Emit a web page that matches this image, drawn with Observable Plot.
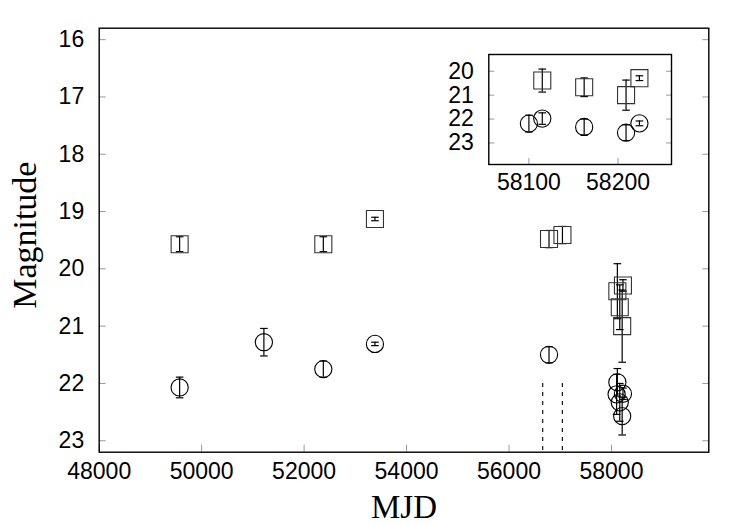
<!DOCTYPE html>
<html>
<head>
<meta charset="utf-8">
<script src="https://cdn.jsdelivr.net/npm/d3@7"></script>
<script src="https://cdn.jsdelivr.net/npm/@observablehq/plot@0.6"></script>
<style>
  html, body { margin: 0; padding: 0; background: white; }
  #wrap { position: relative; width: 750px; height: 525px; }
  #inset { position: absolute; left: 438px; top: 44px; }
</style>
</head>
<body>
<div id="wrap"><div id="main"></div><div id="inset"></div></div>
<script>
// ---- data ----
const squareMJD = [49570, 52375, 53383, 56781, 57043, 58115, 58162, 58209, 58224];
const squareMag = [19.57, 19.57, 19.13, 19.48, 19.41, 20.39, 20.67, 21.00, 20.29];
const squareErr = [0.13, 0.13, 0.03, 0.15, 0.15, 0.48, 0.39, 0.63, 0.10];

const circleMJD = [49570, 51215, 52375, 53383, 56781, 58100, 58115, 58162, 58209, 58224];
const circleMag = [22.07, 21.28, 21.75, 21.31, 21.50, 22.19, 21.98, 22.33, 22.57, 22.18];
const circleErr = [0.18, 0.24, 0.14, 0.03, 0.14, 0.35, 0.24, 0.33, 0.33, 0.10];

const dashedMJD = [56658, 57041];
const dashedFrom = 22.0;

const xTicksMain = [48000, 50000, 52000, 54000, 56000, 58000];
const yTicksMain = [16, 17, 18, 19, 20, 21, 22, 23];
const xTicksInset = [58100, 58200];
const yTicksInset = [20, 21, 22, 23];

// ---- build tables ----
const squares = squareMJD.map((x, i) => ({x, mag: squareMag[i], err: squareErr[i]}));
const circles = circleMJD.map((x, i) => ({x, mag: circleMag[i], err: circleErr[i]}));
const dashed = dashedMJD.map(x => ({x}));

const capSymbol = {
  draw(context, size) {
    const w = Math.sqrt(size / Math.PI);
    context.moveTo(-w, 0);
    context.lineTo(w, 0);
  }
};

function dataMarks() {
  const m = [];
  for (const [data, color, sym, r] of [[squares, "#333", "square", 9.6], [circles, "black", "circle", 8.6]]) {
    m.push(Plot.ruleX(data, {x: "x", y1: d => d.mag - d.err, y2: d => d.mag + d.err, stroke: "black", strokeWidth: 1.2}));
    m.push(Plot.dot(data, {x: "x", y: d => d.mag - d.err, symbol: capSymbol, r: 3.8, stroke: "black", strokeWidth: 1.2}));
    m.push(Plot.dot(data, {x: "x", y: d => d.mag + d.err, symbol: capSymbol, r: 3.8, stroke: "black", strokeWidth: 1.2}));
    m.push(Plot.dot(data, {x: "x", y: "mag", symbol: sym, r, stroke: color, strokeWidth: 1.1, fill: "none"}));
  }
  return m;
}

const font = "'Liberation Sans', Arial, Helvetica, sans-serif";
const serif = "'Liberation Serif', 'Times New Roman', serif";

// ---- main plot ----
const main = Plot.plot({
  width: 750,
  height: 525,
  marginLeft: 98.7,
  marginRight: 41.7,
  marginTop: 27.7,
  marginBottom: 73.3,
  x: {domain: [48000, 59900]},
  y: {domain: [15.8, 23.2], reverse: true},
  style: {fontFamily: font, fontSize: "23px", background: "white", color: "black", overflow: "visible"},
  marks: [
    Plot.axisX(xTicksMain, {tickSize: 0, tickPadding: 10, tickFormat: "d", label: null}),
    Plot.axisX(xTicksMain, {tickSize: -7, tickFormat: () => "", stroke: "#999", label: null}),
    Plot.axisY(yTicksMain, {tickSize: 0, tickPadding: 15, tickFormat: "d", label: null}),
    Plot.axisY(yTicksMain, {tickSize: -7, tickFormat: () => "", stroke: "#999", label: null}),
    Plot.axisY(yTicksMain, {anchor: "right", tickSize: -7, tickFormat: () => "", stroke: "#999", label: null}),
    Plot.ruleX(dashed, {x: "x", y1: dashedFrom, y2: 23.2, stroke: "black", strokeWidth: 1.1, strokeDasharray: "4,5"}),
    ...dataMarks(),
    Plot.frame({stroke: "black", strokeWidth: 1.4}),
    Plot.text(["MJD"], {frameAnchor: "bottom", dy: 55, textAnchor: "middle", lineAnchor: "middle", fontFamily: serif, fontSize: 33}),
    Plot.text(["Magnitude"], {frameAnchor: "left", dx: -74, dy: -5, rotate: -90, textAnchor: "middle", lineAnchor: "middle", fontFamily: serif, fontSize: 34})
  ]
});
document.getElementById("main").appendChild(main);

// ---- inset ----
const inset = Plot.plot({
  width: 245,
  height: 160,
  marginLeft: 50.3,
  marginRight: 12,
  marginTop: 10,
  marginBottom: 40,
  x: {domain: [58055, 58260]},
  y: {domain: [19.3, 23.9], reverse: true},
  style: {fontFamily: font, fontSize: "23px", background: "transparent", color: "black", overflow: "visible"},
  marks: [
    Plot.frame({fill: "white"}),
    Plot.axisX(xTicksInset, {tickSize: 0, tickPadding: 9, tickFormat: "d", label: null}),
    Plot.axisX(xTicksInset, {tickSize: -6, tickFormat: () => "", stroke: "#999", label: null}),
    Plot.axisY(yTicksInset, {tickSize: 0, tickPadding: 15, tickFormat: "d", label: null}),
    Plot.axisY(yTicksInset, {tickSize: -6, tickFormat: () => "", stroke: "#999", label: null}),
    Plot.axisY(yTicksInset, {anchor: "right", tickSize: -6, tickFormat: () => "", stroke: "#999", label: null}),
    ...dataMarks(),
    Plot.frame({stroke: "black", strokeWidth: 1.4})
  ]
});
document.getElementById("inset").appendChild(inset);
</script>
</body>
</html>
